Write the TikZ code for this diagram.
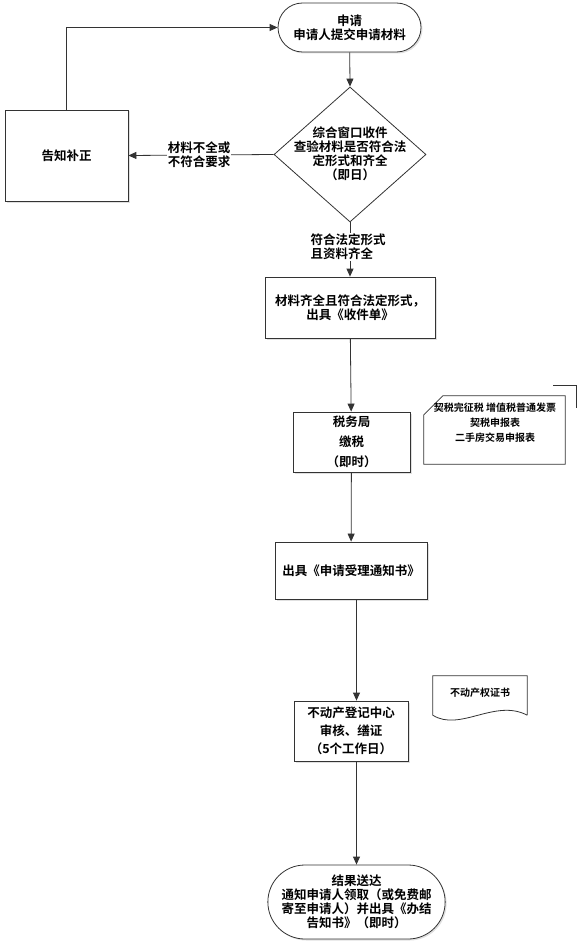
\documentclass[tikz,border=0pt]{standalone}
\usepackage{fontspec}
\newfontfamily\cjk{Noto Sans CJK SC Bold}
\usetikzlibrary{arrows.meta,shapes.geometric,shapes.misc,shadows,calc}
\begin{document}
\begin{tikzpicture}[x=1pt,y=-1pt,
  font=\cjk\fontsize{12.5}{14}\selectfont,
  box/.style={draw=black!80,line width=0.8pt,fill=white,align=center,inner sep=2pt,
    drop shadow={fill=black!30,opacity=0.4,shadow xshift=1.5pt,shadow yshift=-1.5pt}},
  term/.style={box,rounded rectangle},
  decision/.style={draw=black!80,line width=0.8pt,diamond,inner sep=0pt},
  outline/.style={draw=black!80,line width=0.8pt},
  flow/.style={draw=black!80,line width=0.8pt,-{Triangle[length=8pt,width=7pt]}},
  lbl/.style={fill=white,align=center,inner sep=1pt},
  small/.style={font=\cjk\fontsize{10}{15}\selectfont,align=center}]
\useasboundingbox (0,0) rectangle (582,947);

\node[term,minimum width=147pt,minimum height=49pt] (1) at (349.5,27.5) {申请\\申请人提交申请材料};
\node[decision,minimum width=152pt,minimum height=135pt] (2) at (350,154.5) {};
\node[align=center] (2t) at (350,154) {综合窗口收件\\查验材料是否符合法\\定形式和齐全\\（即日）};
\node[box,minimum width=123pt,minimum height=91pt] (3) at (66.5,155.5) {告知补正};
\node[box,minimum width=170pt,minimum height=61pt] (4) at (350,307.5) {材料齐全且符合法定形式，\\出具《收件单》};
\node[box,minimum width=117pt,minimum height=60pt,font=\cjk\fontsize{12.5}{20}\selectfont] (5) at (351.5,442) {税务局\\缴税\\（即时）};
\node[box,minimum width=152pt,minimum height=57pt] (6) at (351,570.5) {出具《申请受理通知书》};
\node[box,minimum width=114pt,minimum height=60pt,font=\cjk\fontsize{12.5}{18}\selectfont] (7) at (351,731) {不动产登记中心\\审核、缮证\\（5个工作日）};
\node[term,minimum width=177pt,minimum height=74pt] (8) at (356.5,902) {结果送达\\通知申请人领取（或免费邮\\寄至申请人）并出具《办结\\告知书》（即时）};

% documents
\node[minimum width=141pt,minimum height=68pt,inner sep=0pt] (d1) at (494.5,430) {};
\path[outline] ($(d1.north west)+(0,19)$) -- ($(d1.north west)+(19,0)$) -- (d1.north east)
  -- (d1.south east) -- (d1.south west) -- cycle;
\node[small] (d1t) at (495,423) {契税完征税 增值税普通发票\\契税申报表\\二手房交易申报表};
\path[outline] (553,385) -- (576,385) -- (576,408);

\node[minimum width=94pt,minimum height=39pt,inner sep=0pt] (d2) at (480,695.5) {};
\path[outline] (d2.south east) -- (d2.north east) -- (d2.north west) -- (d2.south west)
  .. controls ($(d2.south west)+(27,17)$) and ($(d2.south east)+(-32,-17)$) .. (d2.south east);
\node[small] (d2t) at (480,693) {不动产权证书};

% flow
\path[flow] (3.north) |- (1.west);
\path[flow] (1) -- (2.north);
\path[flow] (2.west) -- (3.east) node[lbl,midway,xshift=-2pt] (l1) {材料不全或\\不符合要求};
\path[flow] (2.south) -- (4.north) node[lbl,align=left,pos=0.45,xshift=-2pt] (l2) {符合法定形式\\且资料齐全};
\path[flow] (4) -- (5);
\path[flow] (5) -- (6);
\path[flow] (6.south -| 8.north) -- (7.north -| 8.north);
\path[flow] (7.south -| 8.north) -- (8.north);
\end{tikzpicture}
\end{document}
